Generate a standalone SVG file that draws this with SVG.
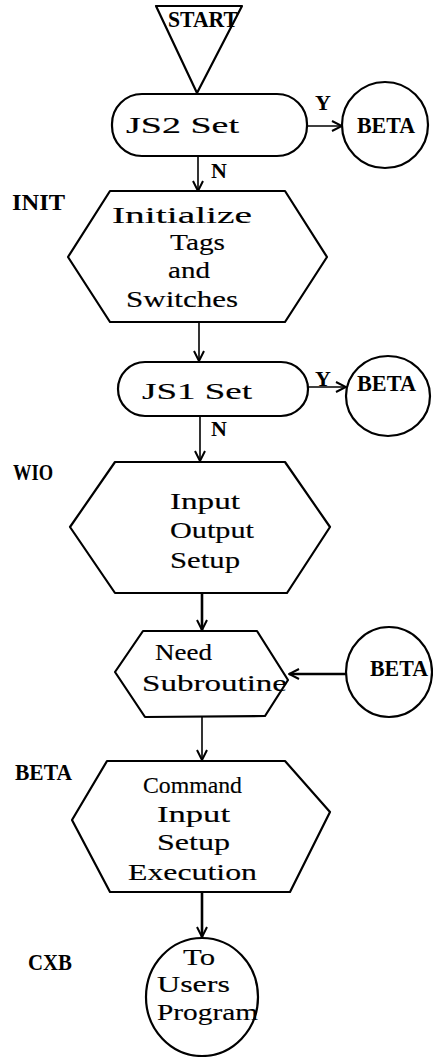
<svg xmlns="http://www.w3.org/2000/svg" width="433" height="1057" viewBox="0 0 433 1057">
  <defs>
    <style>
      .shape { fill: #fff; stroke: #000; stroke-width: 2.2; stroke-linejoin: round; }
      .txt { font-family: "Liberation Serif", "Times New Roman", serif; font-size: 24px; fill: #000; stroke: #000; stroke-width: 0.15; }
      .lbl { font-family: "Liberation Serif", "Times New Roman", serif; font-weight: bold; font-size: 23px; fill: #000; }
      .beta { font-family: "Liberation Serif", "Times New Roman", serif; font-weight: bold; font-size: 24px; fill: #000; }
      .yn { font-family: "Liberation Serif", "Times New Roman", serif; font-weight: bold; font-size: 22px; fill: #000; }
      .flow { fill: none; stroke: #000; stroke-width: 1.6; marker-end: url(#arrow); }
      .flow.heavy { stroke-width: 2.6; }
    </style>
    <marker id="arrow" viewBox="0 0 12 12" refX="11" refY="6" markerWidth="12" markerHeight="12" markerUnits="userSpaceOnUse" orient="auto">
      <path d="M1,1 L11,6 L1,11" fill="none" stroke="#000" stroke-width="2"/>
    </marker>
  </defs>

  <!-- entry point -->
  <g id="start">
    <polygon class="shape" points="156,6 242,6 197,93"/>
    <text class="lbl" x="168" y="27" textLength="70" lengthAdjust="spacingAndGlyphs">START</text>
  </g>

  <!-- first switch test -->
  <g id="js2">
    <rect class="shape" x="112" y="94" width="195" height="62" rx="30" ry="30"/>
    <text class="txt" x="126" y="133" textLength="113" lengthAdjust="spacingAndGlyphs">JS2  Set</text>
  </g>
  <g id="beta1">
    <circle class="shape" cx="385" cy="125" r="43"/>
    <text class="beta" x="357" y="133" textLength="58" lengthAdjust="spacingAndGlyphs">BETA</text>
  </g>

  <!-- initialisation -->
  <g id="init">
    <text class="lbl" x="12" y="210" textLength="53" lengthAdjust="spacingAndGlyphs">INIT</text>
    <polygon class="shape" points="110,191 285,191 327,257 285,322 110,322 68,257"/>
    <text class="txt" x="112" y="223" textLength="140" lengthAdjust="spacingAndGlyphs">Initialize</text>
    <text class="txt" x="170" y="250" textLength="55" lengthAdjust="spacingAndGlyphs">Tags</text>
    <text class="txt" x="168" y="278" textLength="42" lengthAdjust="spacingAndGlyphs">and</text>
    <text class="txt" x="126" y="307" textLength="112" lengthAdjust="spacingAndGlyphs">Switches</text>
  </g>

  <!-- second switch test -->
  <g id="js1">
    <rect class="shape" x="118" y="362" width="190" height="54" rx="27" ry="27"/>
    <text class="txt" x="142" y="399" textLength="110" lengthAdjust="spacingAndGlyphs">JS1  Set</text>
  </g>
  <g id="beta2">
    <ellipse class="shape" cx="388" cy="396" rx="42" ry="40"/>
    <text class="beta" x="357" y="391" textLength="59" lengthAdjust="spacingAndGlyphs">BETA</text>
  </g>

  <!-- I/O setup -->
  <g id="wio">
    <text class="lbl" x="13" y="480" textLength="40" lengthAdjust="spacingAndGlyphs">WIO</text>
    <polygon class="shape" points="115,462 285,462 330,527 287,593 115,593 70,527"/>
    <text class="txt" x="170" y="509" textLength="70" lengthAdjust="spacingAndGlyphs">Input</text>
    <text class="txt" x="170" y="538" textLength="84" lengthAdjust="spacingAndGlyphs">Output</text>
    <text class="txt" x="170" y="568" textLength="70" lengthAdjust="spacingAndGlyphs">Setup</text>
  </g>

  <!-- subroutine check -->
  <g id="need">
    <polygon class="shape" points="143,631 257,631 288,680 265,716 145,717 115,672"/>
    <text class="txt" x="155" y="660" textLength="57" lengthAdjust="spacingAndGlyphs">Need</text>
    <text class="txt" x="142" y="691" textLength="145" lengthAdjust="spacingAndGlyphs">Subroutine</text>
  </g>
  <g id="beta3">
    <ellipse class="shape" cx="389" cy="672" rx="43" ry="45"/>
    <text class="beta" x="370" y="676" textLength="58" lengthAdjust="spacingAndGlyphs">BETA</text>
  </g>

  <!-- command execution -->
  <g id="beta">
    <text class="lbl" x="15" y="780" textLength="57" lengthAdjust="spacingAndGlyphs">BETA</text>
    <polygon class="shape" points="107,761 285,761 330,812 290,892 110,892 72,820"/>
    <text class="txt" x="143" y="793" textLength="99" lengthAdjust="spacingAndGlyphs">Command</text>
    <text class="txt" x="157" y="822" textLength="73" lengthAdjust="spacingAndGlyphs">Input</text>
    <text class="txt" x="157" y="850" textLength="73" lengthAdjust="spacingAndGlyphs">Setup</text>
    <text class="txt" x="128" y="880" textLength="129" lengthAdjust="spacingAndGlyphs">Execution</text>
  </g>

  <!-- exit to user program -->
  <g id="cxb">
    <text class="lbl" x="28" y="970" textLength="44" lengthAdjust="spacingAndGlyphs">CXB</text>
    <ellipse class="shape" cx="202" cy="997" rx="56" ry="59"/>
    <text class="txt" x="183" y="965" textLength="32" lengthAdjust="spacingAndGlyphs">To</text>
    <text class="txt" x="157" y="992" textLength="73" lengthAdjust="spacingAndGlyphs">Users</text>
    <text class="txt" x="157" y="1020" textLength="101" lengthAdjust="spacingAndGlyphs">Program</text>
  </g>

  <!-- connectors -->
  <g id="connectors">
    <path class="flow" d="M307,126 L342,126"/>
    <text class="yn" x="315" y="110">Y</text>
    <path class="flow" d="M198,156 L198,191"/>
    <text class="yn" x="211" y="178">N</text>
    <path class="flow" d="M199,322 L199,361"/>
    <path class="flow" d="M308,387 L346,387"/>
    <text class="yn" x="315" y="386">Y</text>
    <path class="flow" d="M200,416 L200,461"/>
    <text class="yn" x="211" y="436">N</text>
    <path class="flow heavy" d="M202,593 L202,630"/>
    <path class="flow heavy" d="M346,674 L289,674"/>
    <path class="flow" d="M202,717 L202,760"/>
    <path class="flow heavy" d="M202,892 L202,937"/>
  </g>
</svg>
